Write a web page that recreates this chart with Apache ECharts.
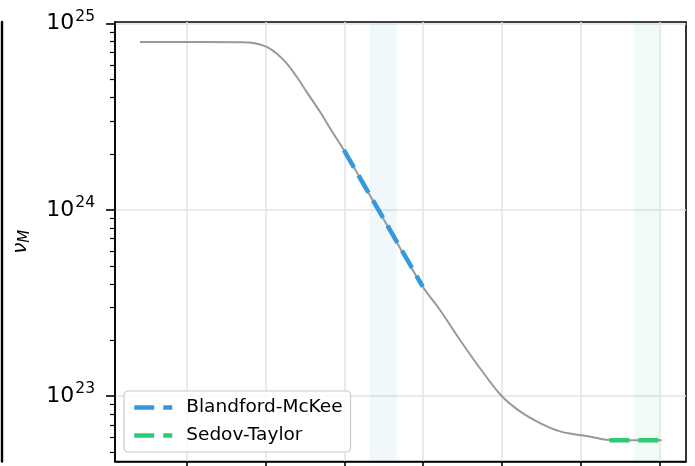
<!DOCTYPE html>
<html>
<head>
<meta charset="utf-8">
<script src="https://cdn.jsdelivr.net/npm/echarts@6/dist/echarts.min.js"></script>
<style>html,body{margin:0;padding:0;background:#fff;}#c{width:695px;height:466px;}</style>
</head>
<body>
<div id="c"></div>
<script>
// x values: log10 of time (tick labels not visible in reference)
const xVals = [0.411, 1.171, 1.678, 1.847, 2.016, 2.143, 2.270, 2.397, 2.523, 2.692, 2.861, 2.996, 3.490, 3.994, 4.200, 4.467, 4.720, 4.995, 5.227, 5.481, 5.734, 6.009, 6.180, 6.368, 7.023];
const nuVals = [7.96e24, 7.96e24, 7.94e24, 7.87e24, 7.50e24, 6.91e24, 6.11e24, 5.18e24, 4.30e24, 3.36e24, 2.57e24, 2.09e24, 9.04e23, 3.87e23, 2.95e23, 2.00e23, 1.41e23, 1.00e23, 8.27e22, 7.16e22, 6.46e22, 6.15e22, 5.97e22, 5.80e22, 5.78e22];
const bmX = [2.996, 3.994];
const bmY = [2.09e24, 3.87e23];
const stX = [6.36, 7.0];
const stY = [5.78e22, 5.78e22];
const bmBand = [3.326, 3.664];
const stBand = [6.675, 6.992];
const xTicks = [1, 2, 3, 4, 5, 6, 7];
const yMajorTicks = [1e23, 1e24, 1e25];
const yMinorTicks = [5e22, 6e22, 7e22, 8e22, 9e22, 2e23, 3e23, 4e23, 5e23, 6e23, 7e23, 8e23, 9e23, 2e24, 3e24, 4e24, 5e24, 6e24, 7e24, 8e24, 9e24];
const xRange = [0.094, 7.331];
const yRange = [4.45e22, 1.02e25];

const FONT = 'DejaVu Sans';
const zip = (a, b) => a.map((v, i) => [v, b[i]]);

const chart = echarts.init(document.getElementById('c'), null, {renderer: 'canvas'});
chart.setOption({
  animation: false,
  backgroundColor: '#fff',
  textStyle: {fontFamily: FONT},
  grid: {left: 115, right: 9, top: 22, bottom: 4.5, show: true, borderColor: '#000', borderWidth: 1.6, backgroundColor: 'transparent'},
  legend: {
    data: ['Blandford-McKee', 'Sedov-Taylor'],
    orient: 'vertical',
    left: 124, top: 391,
    padding: [7, 8, 7, 8],
    itemGap: 9,
    itemWidth: 38, itemHeight: 14,
    borderColor: '#cccccc', borderWidth: 1.2, borderRadius: 4,
    backgroundColor: 'rgba(255,255,255,0.8)',
    itemStyle: {opacity: 0},
    lineStyle: {width: 4.5, type: [20, 9], cap: 'butt'},
    textStyle: {fontFamily: FONT, fontSize: 18.5, color: '#000', padding: [0, 0, 0, 9]}
  },
  xAxis: {
    type: 'value', min: xRange[0], max: xRange[1],
    axisLine: {lineStyle: {color: '#000', width: 1.6}},
    axisTick: {show: true, customValues: xTicks, length: 9, lineStyle: {color: '#000', width: 1.6}},
    axisLabel: {show: false},
    splitLine: {show: true, lineStyle: {color: '#e3e3e3', width: 1.5}}
  },
  yAxis: [
    {
      type: 'log', logBase: 10, min: yRange[0], max: yRange[1],
      name: '{nu|ν}{sub|M}', nameLocation: 'middle', nameGap: 82, nameRotate: 90,
      nameTextStyle: {rich: {
        nu: {fontFamily: FONT, fontSize: 20, fontStyle: 'italic', color: '#000', lineHeight: 24},
        sub: {fontFamily: FONT, fontSize: 15, fontStyle: 'italic', color: '#000', lineHeight: 24, padding: [8, 0, 0, 0]}
      }},
      axisLine: {show: true, lineStyle: {color: '#000', width: 1.6}},
      axisTick: {show: true, customValues: yMajorTicks, length: 9, lineStyle: {color: '#000', width: 1.6}},
      axisLabel: {
        show: true, customValues: yMajorTicks, margin: 20,
        formatter: v => '{b|10}{s|' + Math.round(Math.log10(v)) + '}',
        rich: {
          b: {fontFamily: FONT, fontSize: 22, color: '#000', lineHeight: 30},
          s: {fontFamily: FONT, fontSize: 15.5, color: '#000', verticalAlign: 'top', lineHeight: 15, padding: [0, 0, 0, 1]}
        }
      },
      splitLine: {show: true, lineStyle: {color: '#e3e3e3', width: 1.5}}
    },
    {
      type: 'log', logBase: 10, min: yRange[0], max: yRange[1], position: 'left',
      axisLine: {show: false},
      axisTick: {show: true, customValues: yMinorTicks, length: 5, lineStyle: {color: '#000', width: 1.2}},
      axisLabel: {show: false},
      splitLine: {show: false}
    },
    {
      // spine of the neighbouring panel at the far left
      type: 'log', logBase: 10, min: yRange[0], max: yRange[1], position: 'left', offset: 113.5,
      axisLine: {show: true, lineStyle: {color: '#000', width: 2.4}},
      axisTick: {show: false}, axisLabel: {show: false}, splitLine: {show: false}
    }
  ],
  series: [
    {
      name: 'curve', type: 'line',
      data: zip(xVals, nuVals), showSymbol: false, symbol: 'none',
      smooth: 0.35,
      lineStyle: {color: '#999999', width: 2},
      markArea: {
        silent: true,
        data: [
          [{xAxis: bmBand[0], itemStyle: {color: 'rgba(52,152,219,0.07)'}}, {xAxis: bmBand[1]}],
          [{xAxis: stBand[0], itemStyle: {color: 'rgba(46,204,113,0.07)'}}, {xAxis: stBand[1]}]
        ]
      },
      z: 2
    },
    {
      name: 'Blandford-McKee', type: 'line',
      data: zip(bmX, bmY), symbol: 'none', color: '#3498db',
      lineStyle: {color: '#3498db', width: 4.5, type: [20, 9], cap: 'butt'},
      z: 3
    },
    {
      name: 'Sedov-Taylor', type: 'line',
      data: zip(stX, stY), symbol: 'none', color: '#2ecc71',
      lineStyle: {color: '#2ecc71', width: 4.5, type: [20, 9], cap: 'butt'},
      z: 3
    }
  ]
});
</script>
</body>
</html>
